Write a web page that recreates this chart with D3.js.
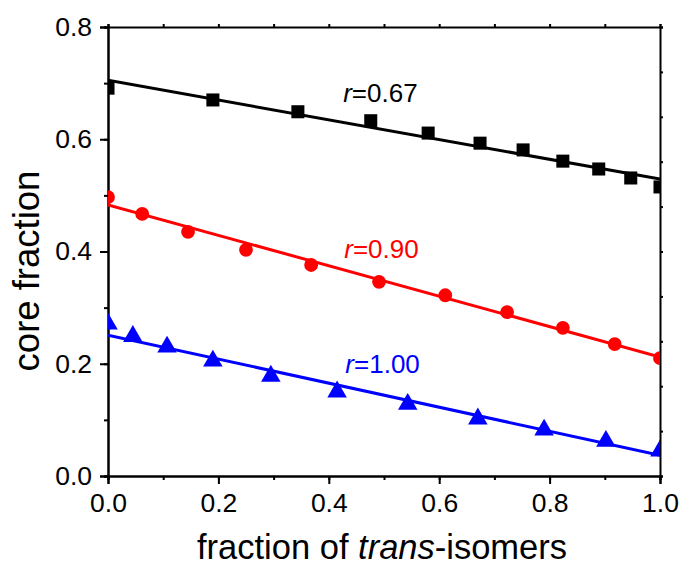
<!DOCTYPE html>
<html>
<head>
<meta charset="utf-8">
<script src="https://cdn.jsdelivr.net/npm/d3@7"></script>
<style>
  body { margin: 0; background: #fff; }
  svg { font-family: "Liberation Sans", Arial, sans-serif; }
</style>
</head>
<body>
<div id="chart"></div>
<script>
// values
const blackX = [0, 0.19, 0.344, 0.476, 0.58, 0.674, 0.752, 0.824, 0.889, 0.947, 1.0];
const blackY = [0.691, 0.670, 0.649, 0.633, 0.611, 0.593, 0.581, 0.561, 0.547, 0.531, 0.515];
const redX = [0, 0.062, 0.145, 0.25, 0.368, 0.491, 0.611, 0.723, 0.824, 0.918, 1.0];
const redY = [0.497, 0.467, 0.435, 0.403, 0.376, 0.346, 0.322, 0.292, 0.264, 0.235, 0.210];
const blueX = [0, 0.045, 0.107, 0.19, 0.295, 0.415, 0.543, 0.670, 0.79, 0.902, 1.0];
const blueY = [0.271, 0.249, 0.230, 0.205, 0.178, 0.150, 0.128, 0.102, 0.082, 0.062, 0.045];

// linear fits: value at x=0 and x=1
const fitStart = [0.705, 0.483, 0.251];
const fitEnd = [0.529, 0.212, 0.037];

const seriesNames = ["0.67", "0.90", "1.00"];
const labelX = [0.426, 0.428, 0.430];
const labelY = [0.666, 0.388, 0.1835];

const xTicks = [0, 0.2, 0.4, 0.6, 0.8, 1.0];
const yTicks = [0, 0.2, 0.4, 0.6, 0.8];

const width = 680, height = 565;
const margin = {top: 27, right: 20, bottom: 89, left: 108};
const plotW = width - margin.left - margin.right;
const plotH = height - margin.top - margin.bottom;

const colors = ["#000000", "#ff0000", "#0000ff"];
const symbols = [d3.symbolSquare, d3.symbolCircle, d3.symbolTriangle];
const symSizes = [170, 150, 165];

let series = [
  {x: blackX, y: blackY},
  {x: redX, y: redY},
  {x: blueX, y: blueY}
].map(function(s, i) {
  return {
    name: seriesNames[i],
    color: colors[i],
    symbol: symbols[i],
    size: symSizes[i],
    points: s.x.map(function(v, j) { return {x: v, y: s.y[j]}; }),
    fit: [{x: 0, y: fitStart[i]}, {x: 1, y: fitEnd[i]}],
    lx: labelX[i],
    ly: labelY[i]
  };
});

let svg = d3.select("#chart")
  .append("svg")
  .attr("width", width)
  .attr("height", height);

let g = svg.append("g")
  .attr("transform", `translate(${margin.left}, ${margin.top})`);

let x = d3.scaleLinear().domain([0, 1]).range([0, plotW]);
let y = d3.scaleLinear().domain([0, 0.8]).range([plotH, 0]);

svg.append("defs").append("clipPath")
  .attr("id", "clip")
  .append("rect")
  .attr("width", plotW)
  .attr("height", plotH);

// axes
function styleAxis(sel) {
  sel.selectAll(".domain").attr("stroke-width", 2);
  sel.selectAll(".tick line").attr("stroke-width", 2);
  sel.selectAll("text")
    .style("font-size", "26.5px")
    .attr("fill", "#000");
}

let xMinor = d3.range(0, 1.001, 0.1);
let yMinor = d3.range(0, 0.801, 0.1);

g.append("g")
  .attr("transform", `translate(0, ${plotH})`)
  .call(d3.axisBottom(x).tickValues(xMinor).tickSize(4).tickFormat(""))
  .call(styleAxis);

g.append("g")
  .attr("transform", `translate(0, ${plotH})`)
  .call(d3.axisBottom(x).tickValues(xTicks).tickSize(8).tickPadding(9).tickFormat(d3.format(".1f")))
  .call(styleAxis);

g.append("g")
  .call(d3.axisLeft(y).tickValues(yMinor).tickSize(4).tickFormat(""))
  .call(styleAxis);

g.append("g")
  .call(d3.axisLeft(y).tickValues(yTicks).tickSize(8).tickPadding(8).tickFormat(d3.format(".1f")))
  .call(styleAxis);

g.append("g")
  .call(d3.axisTop(x).tickValues(xMinor).tickSize(3).tickFormat(""))
  .call(styleAxis);

g.append("g")
  .attr("transform", `translate(${plotW}, 0)`)
  .call(d3.axisRight(y).tickValues(d3.range(0, 0.801, 0.08)).tickSize(3).tickFormat(""))
  .call(styleAxis);

// fit lines and markers
let plot = g.append("g").attr("clip-path", "url(#clip)");

let line = d3.line()
  .x(function(d) { return x(d.x); })
  .y(function(d) { return y(d.y); });

plot.selectAll("path.fit")
  .data(series)
  .enter()
  .append("path")
  .attr("class", "fit")
  .attr("d", function(d) { return line(d.fit); })
  .attr("fill", "none")
  .attr("stroke", function(d) { return d.color; })
  .attr("stroke-width", 3);

series.forEach(function(s) {
  plot.selectAll(null)
    .data(s.points)
    .enter()
    .append("path")
    .attr("transform", function(d) { return `translate(${x(d.x)}, ${y(d.y)})`; })
    .attr("d", d3.symbol().type(s.symbol).size(s.size))
    .attr("fill", s.color);
});

// r labels
let labels = g.selectAll("text.rlabel")
  .data(series)
  .enter()
  .append("text")
  .attr("class", "rlabel")
  .attr("x", function(d) { return x(d.lx); })
  .attr("y", function(d) { return y(d.ly); })
  .attr("fill", function(d) { return d.color; })
  .style("font-size", "26px");

labels.append("tspan").style("font-style", "italic").text("r");
labels.append("tspan").text(function(d) { return "=" + d.name; });

// axis titles
let xTitle = svg.append("text")
  .attr("x", margin.left + plotW / 2 - 2)
  .attr("y", 559)
  .style("text-anchor", "middle")
  .style("font-size", "34.5px");
xTitle.append("tspan").text("fraction of ");
xTitle.append("tspan").style("font-style", "italic").text("trans");
xTitle.append("tspan").text("-isomers");

svg.append("text")
  .attr("transform", `translate(${39}, ${271}) rotate(-90)`)
  .style("text-anchor", "middle")
  .style("font-size", "36.5px")
  .text("core fraction");
</script>
</body>
</html>
